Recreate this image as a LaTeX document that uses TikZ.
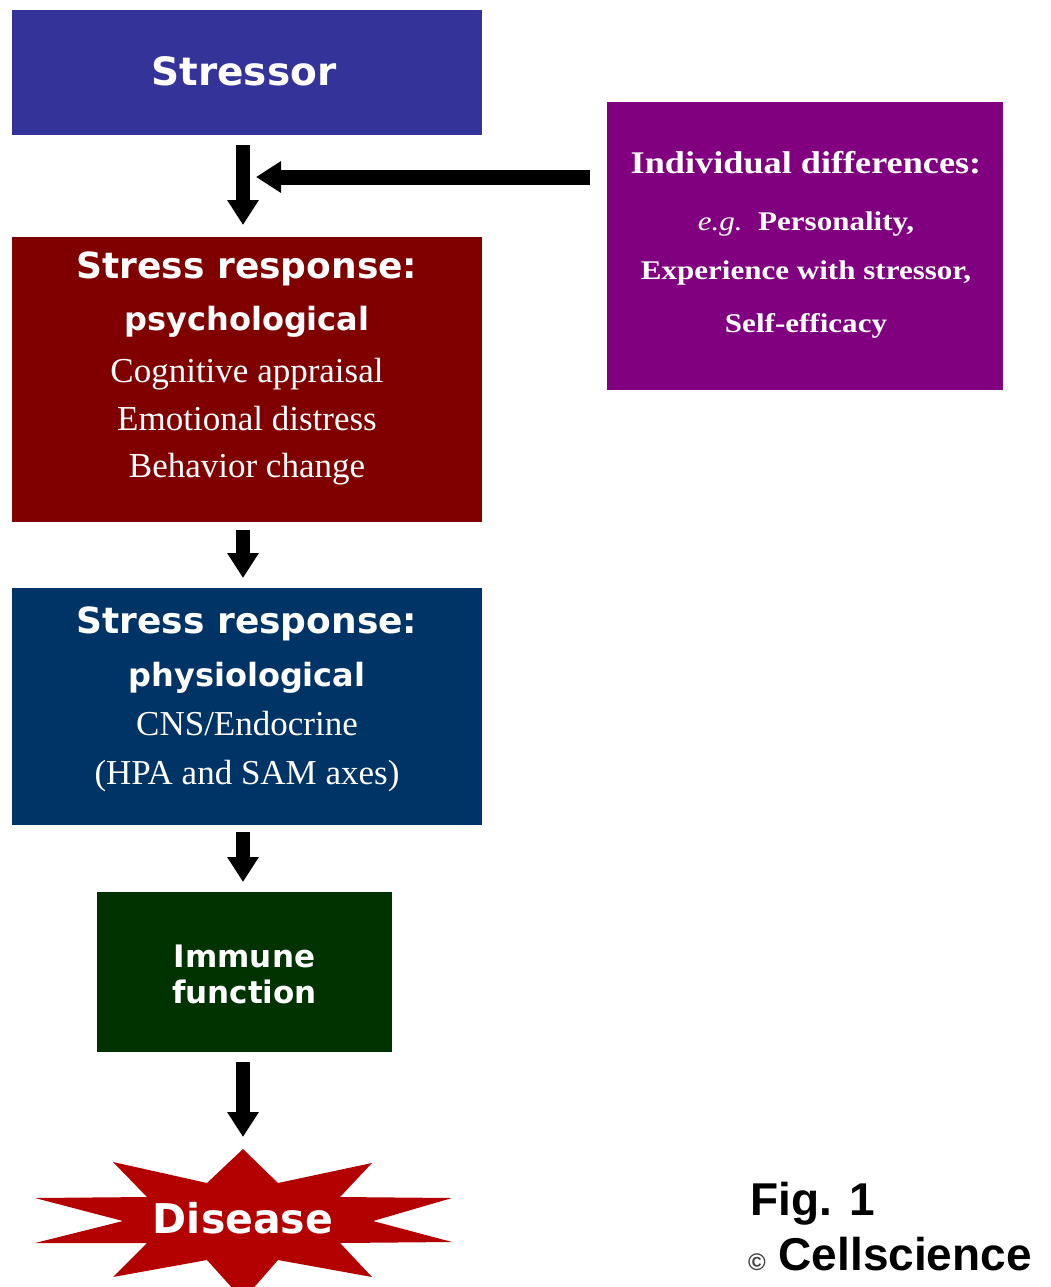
\documentclass[tikz,border=0pt]{standalone}
\usepackage{fontspec}
\setmainfont{Liberation Serif}
\newfontfamily\dvsans{DejaVu Sans}
\newfontfamily\wideserif[FakeStretch=1.15]{Liberation Serif}
\newfontfamily\lsans{Liberation Sans}
\usetikzlibrary{arrows.meta}
\definecolor{cstressor}{RGB}{51,51,153}
\definecolor{cpsych}{RGB}{128,0,0}
\definecolor{cphys}{RGB}{0,51,102}
\definecolor{cimmune}{RGB}{0,51,0}
\definecolor{cindiv}{RGB}{128,0,128}
\definecolor{cdisease}{RGB}{179,0,0}
\begin{document}
\begin{tikzpicture}[x=1pt,y=-1pt,
  boxnode/.style={draw=none,inner sep=0pt,outer sep=0pt},
  sanshead/.style={text=white,inner sep=0pt,anchor=base,font=\dvsans\bfseries\fontsize{36}{40}\selectfont},
  sanssub/.style={text=white,inner sep=0pt,anchor=base,font=\dvsans\bfseries\fontsize{32}{36}\selectfont},
  serifline/.style={text=white,inner sep=0pt,anchor=base,font=\fontsize{35}{40}\selectfont},
  indivline/.style={text=white,inner sep=0pt,anchor=base,font=\wideserif\bfseries\fontsize{27}{32}\selectfont},
  flowarrow/.style={line width=14pt,-{Triangle[width=30pt,length=25pt]}},
  figtext/.style={text=black,inner sep=0pt,anchor=base west,font=\lsans\bfseries\fontsize{46}{50}\selectfont}
]
\clip (0,0) rectangle (1050,1287);
\fill[white] (0,0) rectangle (1050,1287);

% boxes
\node[boxnode,fill=cstressor,minimum width=470pt,minimum height=125pt] (stressor) at (247,72.5) {};
\node[boxnode,fill=cpsych,minimum width=470pt,minimum height=285pt] (psych) at (247,379.5) {};
\node[boxnode,fill=cphys,minimum width=470pt,minimum height=237pt] (phys) at (247,706.5) {};
\node[boxnode,fill=cimmune,minimum width=295pt,minimum height=160pt] (immune) at (244.5,972) {};
\node[boxnode,fill=cindiv,minimum width=396pt,minimum height=288pt] (indiv) at (805,246) {};

% disease star
\fill[cdisease] (243,1149) -- (278,1183) -- (372,1163) -- (340,1197) -- (452,1198)
  -- (373,1221) -- (452,1242) -- (340,1243) -- (372,1277) -- (278,1260) -- (243,1300)
  -- (207,1260) -- (113,1277) -- (147,1243) -- (35,1243) -- (123,1221) -- (35,1198)
  -- (147,1197) -- (113,1162) -- (207,1183) -- cycle;
\coordinate (startop) at (243,1149);

% texts
\node[text=white,inner sep=0pt,anchor=base,font=\dvsans\bfseries\fontsize{39}{44}\selectfont] (tstressor) at (244,86) {Stressor};

\node[sanshead] (tpsA) at (247,278) {Stress response:};
\node[sanssub] (tpsB) at (247,330) {psychological};
\node[serifline] (tpsC) at (247,382) {Cognitive appraisal};
\node[serifline] (tpsD) at (247,430) {Emotional distress};
\node[serifline] (tpsE) at (247,477) {Behavior change};

\node[sanshead] (tphA) at (247,633) {Stress response:};
\node[sanssub] (tphB) at (247,686) {physiological};
\node[serifline] (tphC) at (247,735) {CNS/Endocrine};
\node[serifline] (tphD) at (247,784) {(HPA and SAM axes)};

\node[text=white,inner sep=0pt,anchor=base,font=\dvsans\bfseries\fontsize{31}{36}\selectfont] (timA) at (244.5,967) {Immune};
\node[text=white,inner sep=0pt,anchor=base,font=\dvsans\bfseries\fontsize{31}{36}\selectfont] (timB) at (244.5,1003) {function};

\node[text=white,inner sep=0pt,anchor=base,font=\dvsans\bfseries\fontsize{41}{46}\selectfont] (tdisease) at (243,1233) {Disease};

\node[indivline,font=\wideserif\bfseries\fontsize{31.5}{34}\selectfont] (tinA) at (806,173) {Individual differences:};
\node[indivline] (tinB) at (806,230) {{\mdseries\itshape e.g.}\ \ Personality,};
\node[indivline] (tinC) at (806,279) {Experience with stressor,};
\node[indivline] (tinD) at (806,332) {Self-efficacy};

\node[figtext] (fig) at (750,1215) {Fig. 1};
\node[figtext] (copy) at (748,1270) {{\fontsize{24}{24}\selectfont\color{black!75}\textcopyright} Cellscience};

% arrows
\coordinate (join) at (256,177);
\draw[flowarrow,shorten <=10pt,shorten >=12pt] ([xshift=-4pt]stressor.south) -- ([xshift=-4pt]psych.north);
\draw[flowarrow,line width=15pt,shorten <=17pt] (indiv.west |- join) -- (join);
\draw[flowarrow,shorten <=8pt,shorten >=10pt] ([xshift=-4pt]psych.south) -- ([xshift=-4pt]phys.north);
\draw[flowarrow,shorten <=7pt,shorten >=10pt] ([xshift=-4pt]phys.south) -- ([xshift=-1.5pt]immune.north);
\draw[flowarrow,shorten <=10pt,shorten >=12pt] ([xshift=-1.5pt]immune.south) -- (startop);
\end{tikzpicture}
\end{document}
